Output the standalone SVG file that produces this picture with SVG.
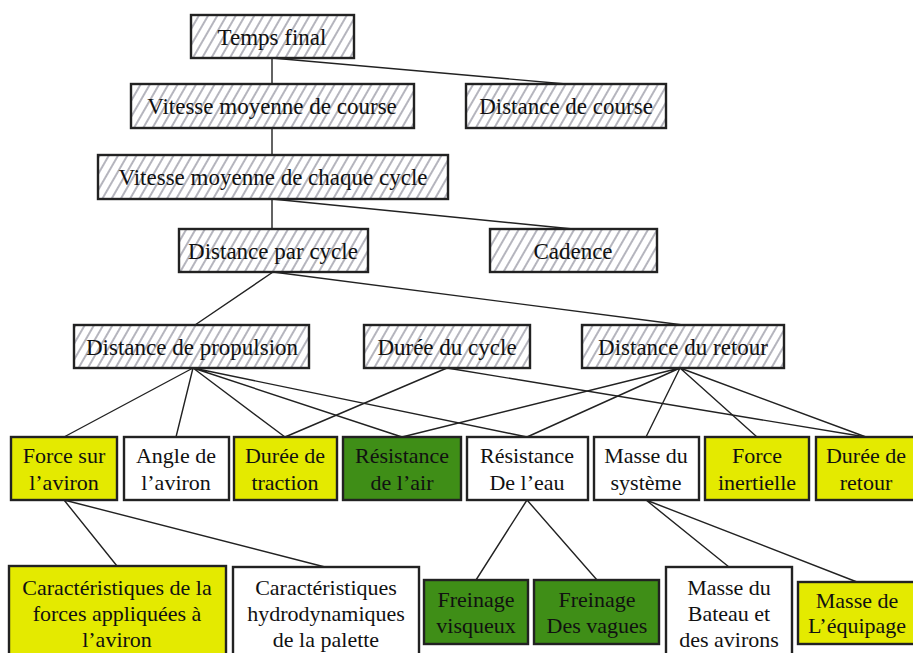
<svg xmlns="http://www.w3.org/2000/svg" width="913" height="653" viewBox="0 0 913 653" font-family="'Liberation Serif', 'Times New Roman', 'DejaVu Serif', serif">
<defs>
<pattern id="hatch" patternUnits="userSpaceOnUse" width="8" height="8" patternTransform="rotate(30)">
<rect width="8" height="8" fill="#ffffff"/>
<line x1="4" y1="0" x2="4" y2="8" stroke="#a8a8b2" stroke-width="1.7"/>
</pattern>
</defs>
<style>
.h rect{fill:url(#hatch);stroke:#222;stroke-width:2.4}
.y rect{fill:#e4ea00;stroke:#222;stroke-width:2.4}
.g rect{fill:#3f8e17;stroke:#222;stroke-width:2.4}
.w rect{fill:#ffffff;stroke:#222;stroke-width:2.4}
text{font-family:'Liberation Serif','Times New Roman','DejaVu Serif',serif;fill:#111;text-anchor:middle}
.h text{font-size:23px}
.y text,.g text,.w text{font-size:22px}
#connectors path{stroke:#222;stroke-width:1.4;fill:none}
</style>
<rect width="913" height="653" fill="#ffffff"/>
<g id="connectors">
<path d="M272,58 V84 M272,58 L566,84 M272,128 V155 M272,199 V229 M272,199 L573,229"/>
<path d="M273,272 L195,325 M273,272 L683,325"/>
<path d="M193,368 L64,437 M193,368 L176,437 M193,368 L285,437 M193,368 L402,437 M193,368 L527,437"/>
<path d="M447,368 L285,437 M447,368 L866,437"/>
<path d="M680,368 L402,437 M680,368 L527,437 M680,368 L646,437 M680,368 L757,437 M680,368 L866,437"/>
<path d="M64,500 L117,566 M64,500 L325,567"/>
<path d="M527,500 L476,580 M527,500 L597,580"/>
<path d="M646,500 L729,567 M646,500 L857,582"/>
</g>
<g id="temps-final" class="h"><rect x="191" y="15" width="163" height="43"/><text x="272" y="45">Temps final</text></g>
<g id="vitesse-course" class="h"><rect x="131" y="84" width="283" height="44"/><text x="272" y="114">Vitesse moyenne de course</text></g>
<g id="distance-course" class="h"><rect x="466" y="84" width="200" height="44"/><text x="566" y="114">Distance de course</text></g>
<g id="vitesse-cycle" class="h"><rect x="98" y="155" width="350" height="44"/><text x="273" y="185">Vitesse moyenne de chaque cycle</text></g>
<g id="distance-par-cycle" class="h"><rect x="179" y="229" width="189" height="43"/><text x="273" y="259">Distance par cycle</text></g>
<g id="cadence" class="h"><rect x="490" y="229" width="167" height="43"/><text x="573" y="259">Cadence</text></g>
<g id="distance-propulsion" class="h"><rect x="74" y="325" width="235" height="43"/><text x="192" y="355">Distance de propulsion</text></g>
<g id="duree-cycle" class="h"><rect x="364" y="325" width="166" height="43"/><text x="447" y="355">Durée du cycle</text></g>
<g id="distance-retour" class="h"><rect x="582" y="325" width="202" height="43"/><text x="683" y="355">Distance du retour</text></g>
<g id="force-aviron" class="y"><rect x="11" y="437" width="106" height="63"/><text x="64" y="463">Force sur</text><text x="64" y="490">l’aviron</text></g>
<g id="angle-aviron" class="w"><rect x="124" y="437" width="105" height="63"/><text x="176" y="463">Angle de</text><text x="176" y="490">l’aviron</text></g>
<g id="duree-traction" class="y"><rect x="234" y="437" width="103" height="63"/><text x="285" y="463">Durée de</text><text x="285" y="490">traction</text></g>
<g id="resistance-air" class="g"><rect x="343" y="437" width="118" height="63"/><text x="402" y="463">Résistance</text><text x="402" y="490">de l’air</text></g>
<g id="resistance-eau" class="w"><rect x="467" y="437" width="121" height="63"/><text x="527" y="463">Résistance</text><text x="527" y="490">De l’eau</text></g>
<g id="masse-systeme" class="w"><rect x="594" y="437" width="105" height="63"/><text x="646" y="463">Masse du</text><text x="646" y="490">système</text></g>
<g id="force-inertielle" class="y"><rect x="705" y="437" width="104" height="63"/><text x="757" y="463">Force</text><text x="757" y="490">inertielle</text></g>
<g id="duree-retour" class="y"><rect x="816" y="437" width="104" height="63"/><text x="866" y="463">Durée de</text><text x="866" y="490">retour</text></g>
<g id="caract-forces" class="y"><rect x="9" y="566" width="217" height="95"/><text x="117" y="595">Caractéristiques de la</text><text x="117" y="621">forces appliquées à</text><text x="117" y="647">l’aviron</text></g>
<g id="caract-hydro" class="w"><rect x="233" y="567" width="186" height="94"/><text x="326" y="595">Caractéristiques</text><text x="326" y="621">hydrodynamiques</text><text x="326" y="647">de la palette</text></g>
<g id="freinage-visqueux" class="g"><rect x="424" y="580" width="104" height="64"/><text x="476" y="607">Freinage</text><text x="476" y="633">visqueux</text></g>
<g id="freinage-vagues" class="g"><rect x="534" y="580" width="125" height="64"/><text x="597" y="607">Freinage</text><text x="597" y="633">Des vagues</text></g>
<g id="masse-bateau" class="w"><rect x="666" y="567" width="126" height="94"/><text x="729" y="595">Masse du</text><text x="729" y="621">Bateau et</text><text x="729" y="647">des avirons</text></g>
<g id="masse-equipage" class="y"><rect x="798" y="582" width="122" height="62"/><text x="857" y="608">Masse de</text><text x="857" y="633">L’équipage</text></g>
</svg>
